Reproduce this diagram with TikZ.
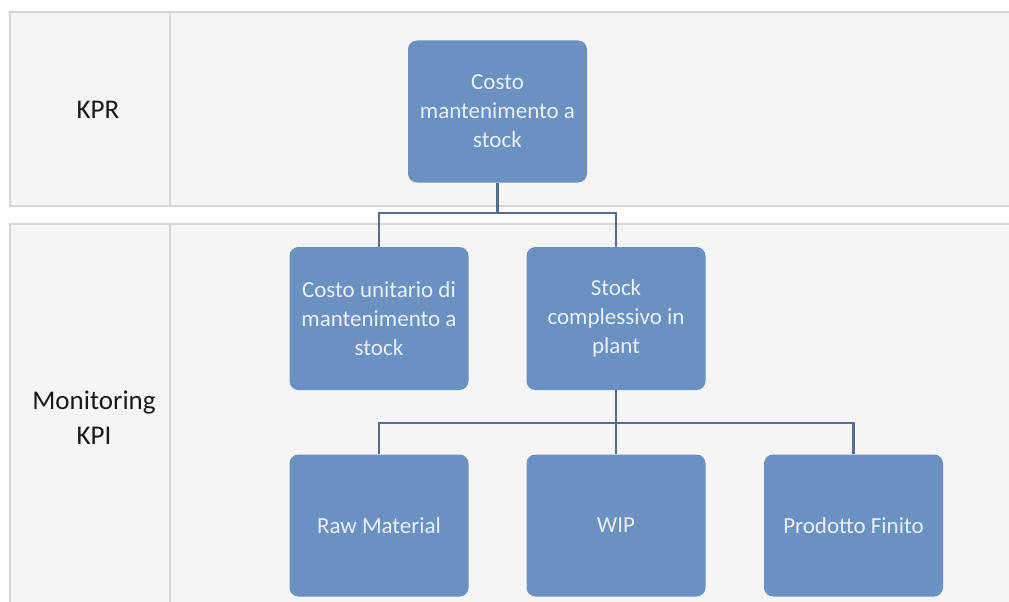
\documentclass[tikz,border=0pt]{standalone}
\usepackage{fontspec}
\setmainfont{Carlito}
\definecolor{panelfill}{HTML}{F5F5F5}
\definecolor{panelline}{HTML}{D6D6D6}
\definecolor{boxfill}{HTML}{6B90C2}
\definecolor{boxtext}{HTML}{EAF0F8}
\definecolor{linkcol}{HTML}{556D91}
\begin{document}
\begin{tikzpicture}[x=1pt,y=-1pt,
  panel/.style={draw=panelline,fill=panelfill,line width=2pt},
  divider/.style={draw=panelline,line width=2pt},
  kpibox/.style={rectangle,rounded corners=9pt,fill=boxfill,text=boxtext,
    minimum width=179pt,minimum height=142pt,align=center,inner sep=2pt,
    font=\fontsize{23}{29}\selectfont},
  rowlabel/.style={align=center,text=black!90,font=\fontsize{27}{35}\selectfont},
  conn/.style={draw=linkcol,line width=2.4pt}]
\useasboundingbox (0,0) rectangle (1009,602);
\clip (0,0) rectangle (1009,602);
\fill[white] (0,0) rectangle (1009,602);

% two horizontal bands with their label column
\path[panel] (10,12) rectangle (1020,206);
\path[panel] (10,224) rectangle (1020,620);
\draw[divider] (170,12) -- (170,206);
\draw[divider] (170,224) -- (170,620);

\node[rowlabel] (kpr) at (98,110) {KPR};
\node[rowlabel] (mon) at (94,418) {Monitoring\\KPI};

% hierarchy boxes
\node[kpibox] (top) at (497.5,111.5) {Costo\\mantenimento a\\stock};
\node[kpibox,minimum height=143pt] (unit) at (379,318.5) {Costo unitario di\\mantenimento a\\stock};
\node[kpibox,minimum height=143pt] (plant) at (616,318.5) {Stock\\complessivo in\\plant};
\node[kpibox] (raw) at (379,525.5) {Raw Material};
\node[kpibox] (wip) at (616,525.5) {WIP};
\node[kpibox] (fin) at (853.5,525.5) {Prodotto Finito};

% connectors
\coordinate (bus1) at (497.5,213);
\coordinate (bus2) at (616,423);
\draw[conn] (top.south) -- (bus1);
\draw[conn] (unit.north) |- (bus1) -| (plant.north);
\draw[conn] (plant.south) -- (bus2);
\draw[conn] (raw.north) |- (bus2) -| (fin.north);
\draw[conn] (bus2) -- (wip.north);
\end{tikzpicture}
\end{document}
